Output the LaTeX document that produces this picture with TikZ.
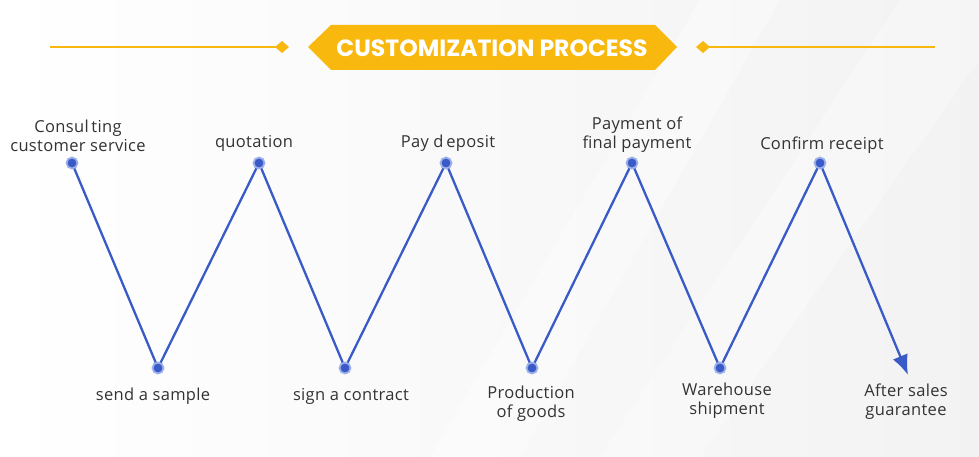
\documentclass[tikz,border=0pt]{standalone}
\usepackage{fontspec}
\setmainfont{Open Sans}
\newfontfamily\titlefont{Poppins}[UprightFont=* Bold]
\usetikzlibrary{arrows.meta,positioning}
\definecolor{zigblue}{HTML}{3A5BC7}
\definecolor{ringblue}{HTML}{9DB0EA}
\definecolor{bannergold}{HTML}{F8B80E}
\tikzset{
    stepdot/.style={circle, fill=zigblue, draw=ringblue, line width=1.8pt, minimum size=11pt, inner sep=0pt},
    steplabel/.style={font=\fontsize{16.5}{19}\selectfont\addfontfeatures{LetterSpace=2}, text=black!80, align=center, inner sep=1pt},
    zigline/.style={zigblue, line width=2.3pt},
}
\begin{document}
\begin{tikzpicture}[x=1pt,y=-1pt]
        % Background
        \shade[left color=white, right color=gray!10] (0,0) rectangle (979,457);
        \fill[white, opacity=0.35] (430,457) -- (700,0) -- (780,0) -- (520,457) -- cycle;
        \fill[white, opacity=0.3] (600,457) -- (900,0) -- (979,0) -- (979,60) -- (700,457) -- cycle;
        \useasboundingbox (0,0) rectangle (979,457);

        % Title banner
        \fill[bannergold] (308,47) -- (331,25) -- (655,25) -- (677,47) -- (655,70) -- (331,70) -- cycle;
        \node[font=\titlefont\fontsize{23.5}{26}\selectfont, text=white] (title) at (492,48) {CUSTOMIZATION PROCESS};
        \draw[bannergold, line width=1.5pt] (50,47) -- (280,47);
        \draw[bannergold, line width=1.5pt] (705,47) -- (935,47);
        \fill[bannergold] (275,47) -- (282,41) -- (289,47) -- (282,53) -- cycle;
        \fill[bannergold] (696,47) -- (703,41) -- (710,47) -- (703,53) -- cycle;

        % Zigzag points
        \coordinate (d1) at (72,163);
        \coordinate (d2) at (158,368);
        \coordinate (d3) at (259,163);
        \coordinate (d4) at (345,368);
        \coordinate (d5) at (446,163);
        \coordinate (d6) at (532,368);
        \coordinate (d7) at (632,163);
        \coordinate (d8) at (720,368);
        \coordinate (d9) at (820,163);
        \coordinate (end) at (908,375);

        \draw[zigline] (d1) -- (d2) -- (d3) -- (d4) -- (d5) -- (d6) -- (d7) -- (d8) -- (d9);
        \draw[zigline, -{Latex[length=20pt,width=16pt]}] (d9) -- (end);

        \foreach \p in {d1,d2,d3,d4,d5,d6,d7,d8,d9} {
            \node[stepdot] at (\p) {};
        }

        % Labels
        \node[steplabel] (l1) at (78,136) {Consul\,ting\\customer service};
        \node[steplabel] (l3) at (254,143) {quotation};
        \node[steplabel] (l5) at (448,143) {Pay d\,eposit};
        \node[steplabel] (l7) at (637,135) {Payment of\\final payment};
        \node[steplabel] (l9) at (822,145) {Confirm receipt};
        \node[steplabel] (l2) at (153,396) {send a sample};
        \node[steplabel] (l4) at (351,396) {sign a contract};
        \node[steplabel] (l6) at (531,404) {Production\\of goods};
        \node[steplabel] (l8) at (727,401) {Warehouse\\shipment};
        \node[steplabel] (l10) at (906,402) {After sales\\guarantee};
    \end{tikzpicture}
\end{document}
